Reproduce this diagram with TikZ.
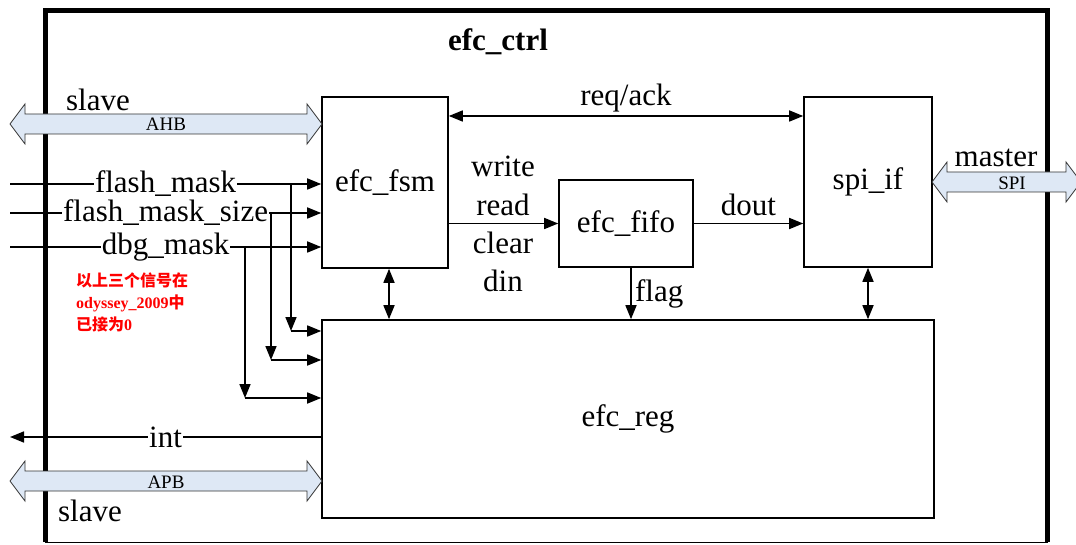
\documentclass[tikz,border=0pt]{standalone}
\usepackage{fontspec}
\setmainfont{Liberation Serif}
\newfontfamily\cjk{Noto Sans CJK SC}
\usepackage{tikz}
\usetikzlibrary{positioning,calc,arrows.meta}
\definecolor{busblue}{RGB}{222,232,245}
\tikzset{
blk/.style={draw=black,line width=1.6pt,minimum width=#1,inner sep=0pt},
sig/.style={draw=black,line width=1.6pt,-{Triangle[length=14pt,width=11pt]}},
dsig/.style={draw=black,line width=1.6pt,{Triangle[length=14pt,width=11pt]}-{Triangle[length=14pt,width=11pt]}},
lbl/.style={fill=white,inner sep=1pt},
busfill/.style={draw=black!80,line width=0.8pt,fill=busblue},
small/.style={font=\fontsize{19}{21}\selectfont,inner sep=0pt},
note/.style={font=\fontsize{16}{22}\selectfont\bfseries,text=red,align=left,inner sep=0pt}
}
% bus arrow: left x, right x, centre y
\newcommand{\busarrow}[3]{%
\draw[busfill] (#1,#3) -- ({#1+15},{#3-20}) -- ({#1+15},{#3-10}) -- ({#2-15},{#3-10})
-- ({#2-15},{#3-20}) -- (#2,#3) -- ({#2-15},{#3+20}) -- ({#2-15},{#3+10})
-- ({#1+15},{#3+10}) -- ({#1+15},{#3+20}) -- cycle;}

\begin{document}
\begin{tikzpicture}[x=1pt,y=-1pt,every node/.style={font=\fontsize{31}{36}\selectfont}]
\useasboundingbox (0,0) rectangle (1076,545);
% outer frame
\draw[line width=1pt] (45,11) rectangle (1047,542);
\draw[line width=5pt] (45,542) -- (45,11) -- (1047,11) -- (1047,542);
\node (title) at (498,42) {\bfseries efc\_ctrl};

% blocks
\node[blk=126pt,minimum height=171pt] (fsm) at (385,182.5) {efc\_fsm};
\node[blk=128pt,minimum height=170pt] (spi) at (868,182) {spi\_if};
\node[blk=134pt,minimum height=87pt] (fifo) at (626,223.5) {efc\_fifo};
\node[blk=612pt,minimum height=198pt] (reg) at (628,419) {efc\_reg};

% buses
\busarrow{10}{322}{124}
\busarrow{10}{322}{481}
\busarrow{932}{1081}{182}
\node (slavea) at (98,100) {slave};
\node[small] (ahb) at (166,124) {AHB};
\node[small] (apb) at (166,482) {APB};
\node (slaveb) at (90,511) {slave};
\node (master) at (996,158) {master};
\node[small] (spibus) at (1012,183) {SPI};

% internal connections
\coordinate (ra) at (0,116);
\draw[dsig] (fsm.east |- ra) -- (spi.west |- ra) node[midway,above=0pt] (reqack) {req/ack};
\draw[sig] (fsm.east |- fifo.west) -- (fifo.west);
\foreach \t/\yy in {write/166,read/205,clear/243,din/281}
  \node (\t) at (503,\yy) {\t};
\draw[sig] (fifo.east) -- (spi.west |- fifo.east) node[midway,above=4pt] (dout) {dout};
\draw[sig] ([xshift=5pt]fifo.south) -- ([xshift=5pt]reg.north -| fifo.south) node[midway,right=0pt] (flag) {flag};
\draw[dsig] ([xshift=4pt]fsm.south) -- ([xshift=4pt]reg.north -| fsm.south);
\draw[dsig] (spi.south) -- (reg.north -| spi.south);

% inputs from outside
\coordinate (fmin) at (10,184);
\coordinate (fsin) at (10,213);
\coordinate (dmin) at (10,247);
\draw[sig] (fmin) -- (fsm.west |- fmin) node[midway,lbl] (fm) {flash\_mask};
\draw[sig] (fsin) -- (fsm.west |- fsin) node[midway,lbl] (fs) {flash\_mask\_size};
\draw[sig] (dmin) -- (fsm.west |- dmin) node[midway,lbl] (dm) {dbg\_mask};
% branches into efc_reg
\coordinate (fmtap) at (291,184);
\coordinate (fmcor) at (291,331);
\coordinate (fstap) at (271,213);
\coordinate (fscor) at (271,360);
\coordinate (dmtap) at (245,247);
\coordinate (dmcor) at (245,398);
\draw[sig] (fmtap) -- (fmcor);
\draw[sig] (fmcor) -- (reg.west |- fmcor);
\draw[sig] (fstap) -- (fscor);
\draw[sig] (fscor) -- (reg.west |- fscor);
\draw[sig] (dmtap) -- (dmcor);
\draw[sig] (dmcor) -- (reg.west |- dmcor);

% interrupt out
\coordinate (intout) at (10,437);
\draw[sig] (reg.west |- intout) -- (intout) node[midway,lbl] (int) {int};

\node[note,anchor=north west] (remark) at (76,273)
  {{\cjk 以上三个信号在}\\ odyssey\_2009{\cjk 中}\\ {\cjk 已接为}0};
\end{tikzpicture}
\end{document}
